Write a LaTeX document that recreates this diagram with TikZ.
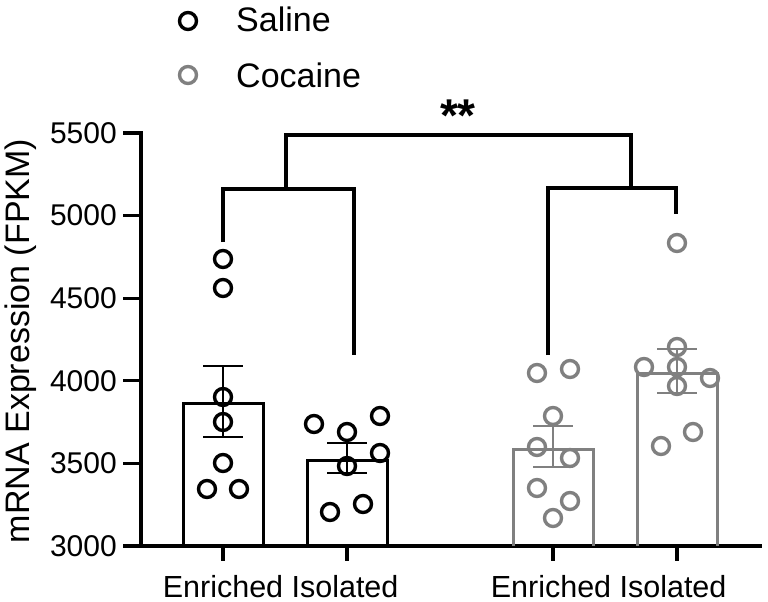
\documentclass[tikz,border=0pt]{standalone}
\usepackage{fontspec}
\setmainfont{Liberation Sans}
\usepackage{xcolor}
\definecolor{cocaine}{RGB}{128,128,128}

\begin{document}
\begin{tikzpicture}[x=1pt,y=-1pt,
    axis line/.style={line width=3.2pt},
    bracket/.style={line width=3.5pt},
    bar/.style={line width=3pt},
    sem/.style={line width=2.4pt},
    saline dot/.style={line width=3.4pt,draw=black},
    cocaine dot/.style={line width=3.4pt,draw=cocaine},
    tick label/.style={anchor=east,inner sep=0pt,font=\fontsize{30}{36}\selectfont},
    group label/.style={anchor=base,inner sep=0pt,font=\fontsize{30.5}{36}\selectfont},
    legend label/.style={anchor=base west,inner sep=0pt,font=\fontsize{34}{40}\selectfont}]
  \useasboundingbox (0,0) rectangle (768,602);

  % Legend
  \draw[saline dot] (188,21) circle[radius=8.5];
  \draw[cocaine dot] (188,75) circle[radius=8.5];
  \node[legend label] (saline) at (236,32) {Saline};
  \node[legend label] (cocaine) at (236,87) {Cocaine};

  % Axes
  \draw[axis line] (123,133) -- (141,133) -- (141,546) -- (762,546);
  \draw[axis line] (123,215.6) -- (141,215.6);
  \draw[axis line] (123,298.2) -- (141,298.2);
  \draw[axis line] (123,380.8) -- (141,380.8);
  \draw[axis line] (123,463.4) -- (141,463.4);
  \draw[axis line] (123,546) -- (141,546);
  \draw[axis line] (223,546) -- (223,561);
  \draw[axis line] (347,546) -- (347,561);
  \draw[axis line] (553,546) -- (553,561);
  \draw[axis line] (677,546) -- (677,561);

  \node[tick label] (y5500) at (117,133) {5500};
  \node[tick label] (y5000) at (117,215.6) {5000};
  \node[tick label] (y4500) at (117,298.2) {4500};
  \node[tick label] (y4000) at (117,380.8) {4000};
  \node[tick label] (y3500) at (117,463.4) {3500};
  \node[tick label] (y3000) at (117,546) {3000};
  \node[rotate=90,inner sep=0pt,font=\fontsize{34}{40}\selectfont] (ylab) at (21,341) {mRNA Expression (FPKM)};

  \node[group label] (enr1) at (223,597) {Enriched};
  \node[group label] (iso1) at (345,597) {Isolated};
  \node[group label] (enr2) at (551,597) {Enriched};
  \node[group label] (iso2) at (673,597) {Isolated};

  % Bars
  \draw[bar] (183,546) -- (183,403) -- (263,403) -- (263,546);
  \draw[bar] (307,546) -- (307,460) -- (387,460) -- (387,546);
  \draw[bar,cocaine] (513,546) -- (513,449) -- (593,449) -- (593,546);
  \draw[bar,cocaine] (637,546) -- (637,373) -- (717,373) -- (717,546);

  % Error bars
  \draw[sem] (223,366) -- (223,437) (203,366) -- (243,366) (203,437) -- (243,437);
  \draw[sem] (347,443) -- (347,473) (327,443) -- (367,443) (327,473) -- (367,473);
  \draw[sem,cocaine] (553,426) -- (553,467) (533,426) -- (573,426) (533,467) -- (573,467);
  \draw[sem,cocaine] (677,349) -- (677,393) (657,349) -- (697,349) (657,393) -- (697,393);

  % Points
  \draw[saline dot] (223,259) circle[radius=8.5] (223,288) circle[radius=8.5]
    (223,397) circle[radius=8.5] (223,422) circle[radius=8.5] (223,463) circle[radius=8.5]
    (207,489) circle[radius=8.5] (239,489) circle[radius=8.5];
  \draw[saline dot] (314,424) circle[radius=8.5] (347,432) circle[radius=8.5]
    (380,416) circle[radius=8.5] (380,453) circle[radius=8.5] (347,466) circle[radius=8.5]
    (330,512) circle[radius=8.5] (363,504) circle[radius=8.5];
  \draw[cocaine dot] (537,373) circle[radius=8.5] (570,369) circle[radius=8.5]
    (553,416) circle[radius=8.5] (537,447) circle[radius=8.5] (570,458) circle[radius=8.5]
    (537,488) circle[radius=8.5] (570,501) circle[radius=8.5] (553,518) circle[radius=8.5];
  \draw[cocaine dot] (677,243) circle[radius=8.5] (677,347) circle[radius=8.5]
    (644,367) circle[radius=8.5] (677,367) circle[radius=8.5] (710,378) circle[radius=8.5]
    (677,386) circle[radius=8.5] (693,432) circle[radius=8.5] (661,446) circle[radius=8.5];

  % Brackets
  \draw[bracket] (223,242) -- (223,189) -- (354,189) -- (354,355);
  \draw[bracket] (548,355) -- (548,188) -- (676,188) -- (676,214);
  \draw[bracket] (286,189) -- (286,135) -- (631,135) -- (631,188);
  \node[anchor=base,inner sep=0pt,font=\bfseries\fontsize{46}{50}\selectfont] (stars) at (458,131) {**};
\end{tikzpicture}
\end{document}
